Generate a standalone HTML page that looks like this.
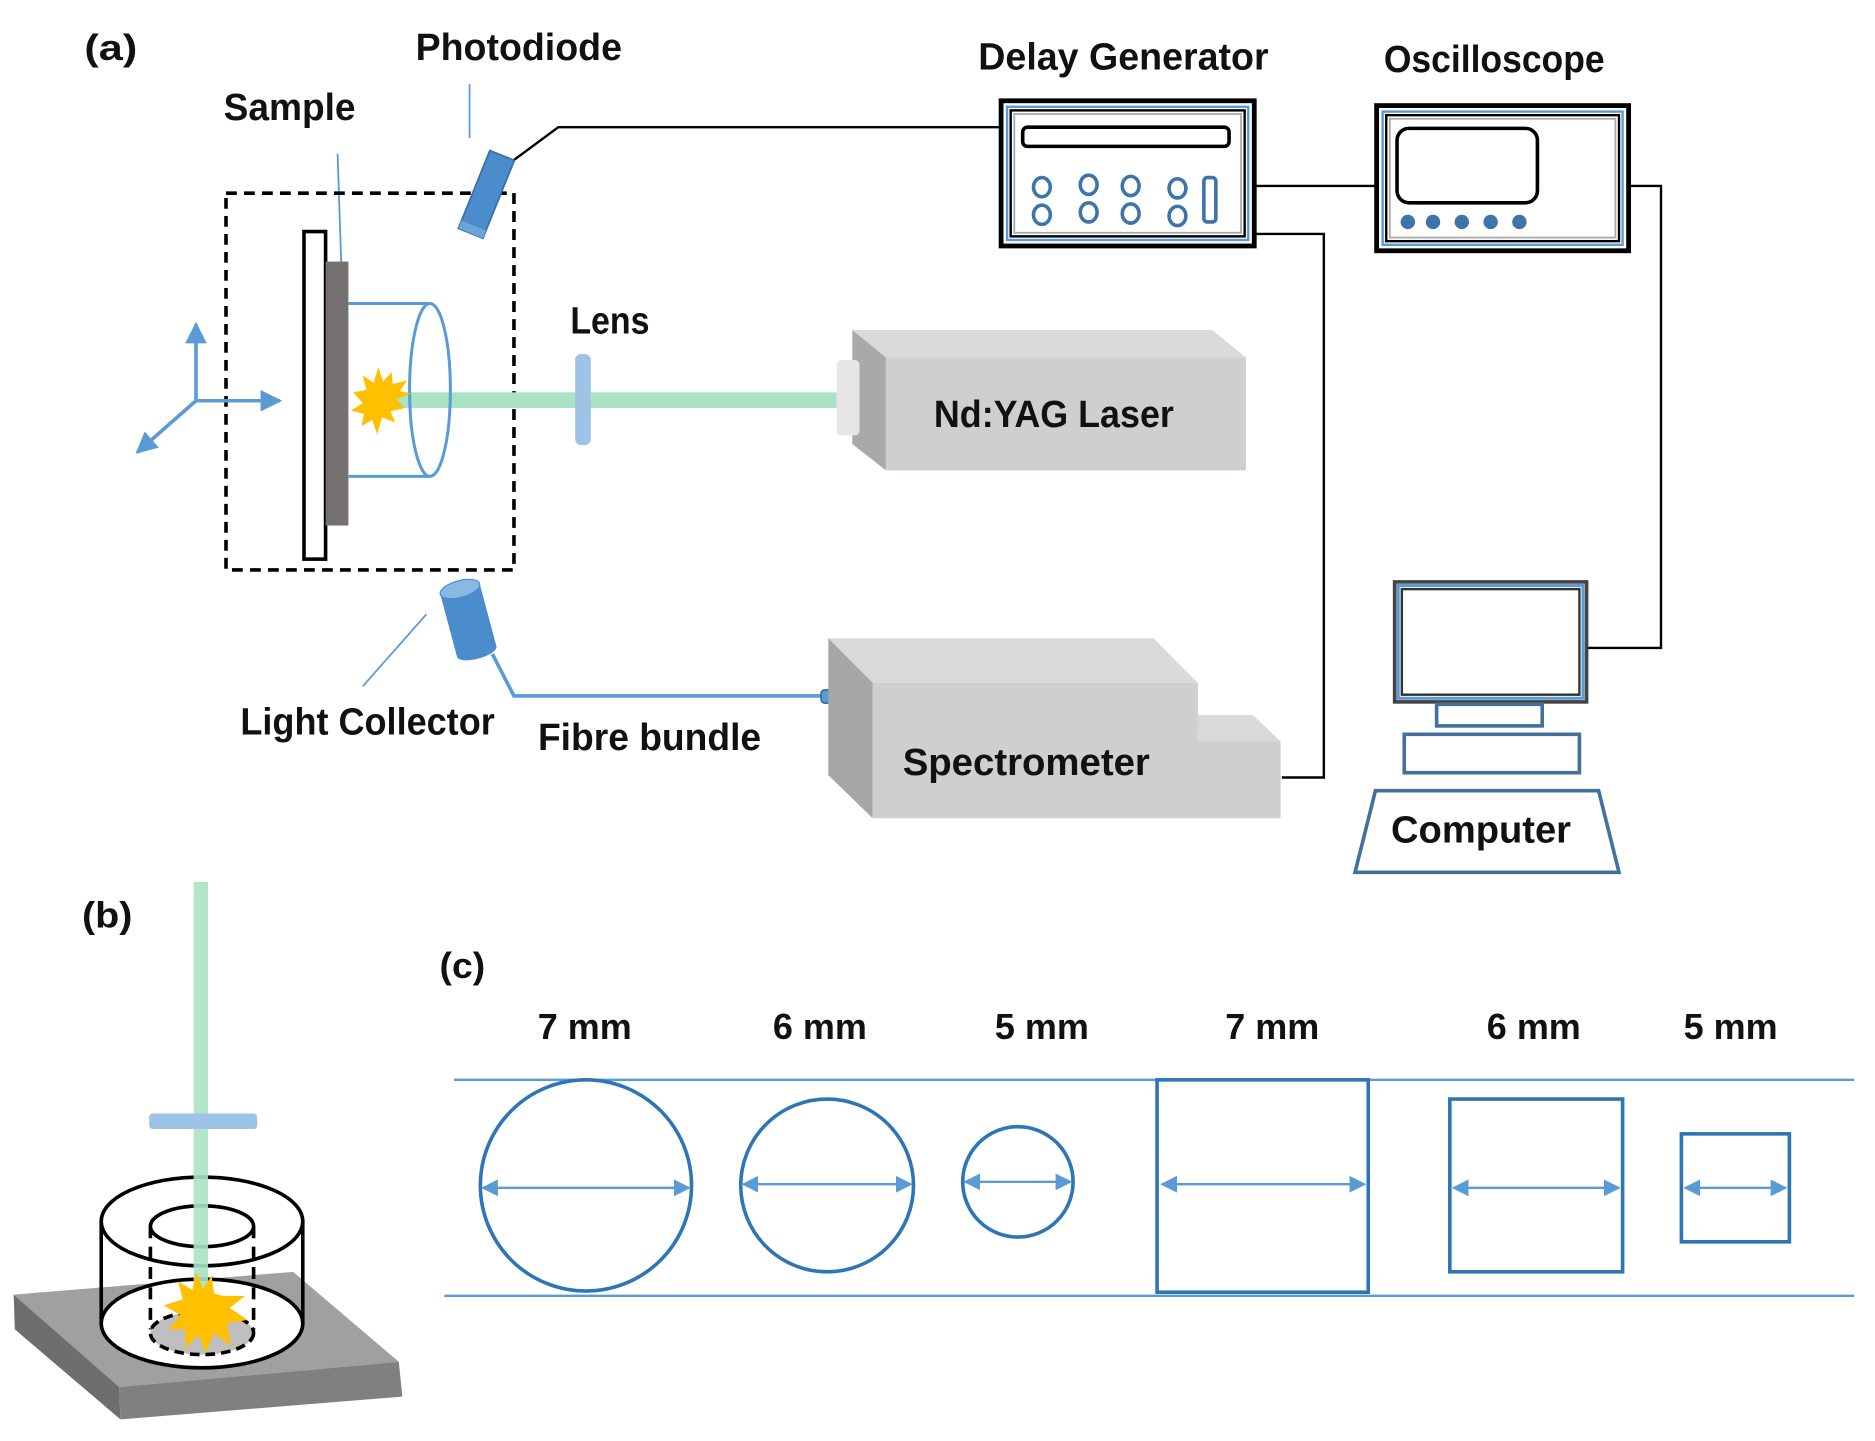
<!DOCTYPE html>
<html><head><meta charset="utf-8"><style>
html,body{margin:0;padding:0;background:#fff;}
svg{display:block;}
text{font-family:"Liberation Sans",sans-serif;font-weight:bold;fill:#111;}
</style></head><body>
<svg width="1875" height="1441" viewBox="0 0 1562 1201" xmlns="http://www.w3.org/2000/svg">
<defs>
<marker id="ah" viewBox="0 0 10 10" refX="9" refY="5" markerWidth="6" markerHeight="6" orient="auto-start-reverse"><path d="M0,0 L10,5 L0,10 z" fill="#5b9bd5"/></marker>
<marker id="ah2" viewBox="0 0 10 10" refX="9" refY="5" markerWidth="7" markerHeight="7" orient="auto-start-reverse"><path d="M0,0 L10,5 L0,10 z" fill="#5b9bd5"/></marker>
</defs>

<!-- labels (a) -->
<text x="70" y="50" font-size="30" textLength="44" lengthAdjust="spacingAndGlyphs">(a)</text>
<text x="186" y="100" font-size="32" textLength="110" lengthAdjust="spacingAndGlyphs">Sample</text>
<text x="346" y="50" font-size="32" textLength="172" lengthAdjust="spacingAndGlyphs">Photodiode</text>
<text x="475" y="278" font-size="32" textLength="66" lengthAdjust="spacingAndGlyphs">Lens</text>
<text x="815" y="58" font-size="32" textLength="242" lengthAdjust="spacingAndGlyphs">Delay Generator</text>
<text x="1153" y="60" font-size="32" textLength="184" lengthAdjust="spacingAndGlyphs">Oscilloscope</text>
<text x="200" y="612" font-size="32" textLength="212" lengthAdjust="spacingAndGlyphs">Light Collector</text>
<text x="448" y="625" font-size="32" textLength="186" lengthAdjust="spacingAndGlyphs">Fibre bundle</text>

<!-- pointer lines -->
<line x1="281" y1="128" x2="284" y2="218" stroke="#5b9bd5" stroke-width="1.5"/>
<line x1="391" y1="70" x2="391" y2="115" stroke="#5b9bd5" stroke-width="1.5"/>
<line x1="355" y1="512" x2="302" y2="572" stroke="#5b9bd5" stroke-width="1.5"/>

<!-- black wires -->
<polyline points="423,137 465,106 835,106" fill="none" stroke="#000" stroke-width="2"/>
<line x1="1045" y1="155" x2="1147" y2="155" stroke="#000" stroke-width="2"/>
<polyline points="1045,195 1103,195 1103,648 1068,648" fill="none" stroke="#000" stroke-width="2"/>
<polyline points="1358,155 1384,155 1384,540 1323,540" fill="none" stroke="#000" stroke-width="2"/>

<!-- dashed box -->
<rect x="188" y="161" width="240" height="314" fill="none" stroke="#000" stroke-width="3" stroke-dasharray="9,6"/>

<!-- sample holder -->
<rect x="253" y="193" width="18" height="273" fill="#fff" stroke="#000" stroke-width="3"/>
<rect x="271" y="218" width="19" height="220" fill="#767171"/>

<!-- beam -->
<rect x="330" y="327" width="367" height="13" fill="#a9e3c3"/>
<!-- cylinder -->
<line x1="290" y1="253" x2="358" y2="253" stroke="#5b9bd5" stroke-width="2.5"/>
<line x1="290" y1="397" x2="358" y2="397" stroke="#5b9bd5" stroke-width="2.5"/>
<ellipse cx="358" cy="325" rx="17" ry="72" fill="none" stroke="#5b9bd5" stroke-width="2.5"/>
<!-- star -->
<polygon fill="#ffc000" points="342,328 330,333 337,340 325,343 329,352 318,348 314,362 310,350 301,355 303,345 292,342 302,336 294,327 305,325 302,313 311,319 315,306 319,318 326,310 327,320 339,317 333,326"/>
<!-- lens -->
<rect x="479" y="295" width="13" height="76" rx="5" fill="#9dc3e6"/>

<!-- axes -->
<line x1="163" y1="334" x2="163" y2="270" stroke="#5b9bd5" stroke-width="3" marker-end="url(#ah)"/>
<line x1="163" y1="334" x2="233" y2="334" stroke="#5b9bd5" stroke-width="3" marker-end="url(#ah)"/>
<line x1="163" y1="334" x2="114" y2="377" stroke="#5b9bd5" stroke-width="3" marker-end="url(#ah)"/>

<!-- photodiode -->
<g transform="translate(405,162) rotate(22)">
<rect x="-11" y="-35" width="22" height="70" fill="#4a8ccc" stroke="#3a70a8" stroke-width="1.5"/>
<rect x="-11" y="28" width="22" height="7" fill="#6aa4da"/>
</g>

<!-- light collector -->
<g transform="translate(390,517) rotate(-15)">
<rect x="-17" y="-27" width="34" height="54" fill="#4a8ccc"/>
<ellipse cx="0" cy="-27" rx="17" ry="7" fill="#8ab8e4" stroke="#4a8ccc" stroke-width="1"/>
<ellipse cx="0" cy="27" rx="17" ry="6" fill="#4a8ccc"/>
</g>
<polyline points="410,545 428,580 690,580" fill="none" stroke="#5b9bd5" stroke-width="3"/>
<rect x="684" y="575" width="18" height="11" rx="3" fill="#5b9bd5" stroke="#3a70a8" stroke-width="1.5"/>

<!-- laser -->
<polygon points="710,275 1010,275 1038,298 738,298" fill="#dadada"/>
<polygon points="710,275 738,298 738,392 710,370" fill="#a9a9a9"/>
<rect x="738" y="298" width="300" height="94" fill="#d0cece"/>
<rect x="697" y="300" width="19" height="63" rx="4" fill="#e7e6e6"/>
<text x="778" y="356" font-size="32" textLength="200" lengthAdjust="spacingAndGlyphs">Nd:YAG Laser</text>

<!-- spectrometer -->
<polygon points="690,532 961,532 998,569 727,569" fill="#d9d9d9"/>
<polygon points="998,596 1044,596 1067,618 998,618" fill="#d9d9d9"/>
<polygon points="690,532 727,569 727,682 690,646" fill="#a6a6a6"/>
<polygon points="727,569 998,569 998,618 1067,618 1067,682 727,682" fill="#d0cece"/>
<text x="752" y="646" font-size="32" textLength="206" lengthAdjust="spacingAndGlyphs">Spectrometer</text>

<!-- delay generator -->
<rect x="834" y="84" width="211" height="121" fill="#fff" stroke="#000" stroke-width="4"/>
<rect x="839" y="89" width="201" height="111" fill="none" stroke="#5b9bd5" stroke-width="2"/>
<rect x="842" y="92" width="195" height="105" fill="none" stroke="#000" stroke-width="2"/>
<rect x="845" y="95" width="189" height="99" fill="none" stroke="#aaa" stroke-width="1.5"/>
<rect x="852" y="106" width="172" height="16" rx="4" fill="none" stroke="#000" stroke-width="3"/>
<g fill="none" stroke="#3d74aa" stroke-width="3">
<ellipse cx="868" cy="156" rx="7" ry="8"/><ellipse cx="907" cy="154" rx="7" ry="8"/><ellipse cx="942" cy="155" rx="7" ry="8"/><ellipse cx="981" cy="157" rx="7" ry="8"/>
<ellipse cx="868" cy="179" rx="7" ry="8"/><ellipse cx="907" cy="177" rx="7" ry="8"/><ellipse cx="942" cy="178" rx="7" ry="8"/><ellipse cx="981" cy="180" rx="7" ry="8"/>
<rect x="1003" y="148" width="10" height="37" rx="3"/>
</g>

<!-- oscilloscope -->
<rect x="1147" y="88" width="210" height="121" fill="#fff" stroke="#000" stroke-width="4"/>
<rect x="1152" y="93" width="200" height="111" fill="none" stroke="#5b9bd5" stroke-width="2"/>
<rect x="1155" y="96" width="194" height="105" fill="none" stroke="#000" stroke-width="2"/>
<rect x="1158" y="99" width="188" height="99" fill="none" stroke="#aaa" stroke-width="1.5"/>
<rect x="1164" y="107" width="117" height="62" rx="10" fill="none" stroke="#000" stroke-width="3"/>
<g fill="#3d74aa"><circle cx="1173" cy="185" r="6"/><circle cx="1194" cy="185" r="6"/><circle cx="1218" cy="185" r="6"/><circle cx="1242" cy="185" r="6"/><circle cx="1266" cy="185" r="6"/></g>

<!-- computer -->
<rect x="1162" y="485" width="160" height="100" fill="#fff" stroke="#444" stroke-width="3"/>
<rect x="1165" y="488" width="154" height="94" fill="none" stroke="#5b9bd5" stroke-width="2.5"/>
<rect x="1168" y="491" width="148" height="88" fill="none" stroke="#333" stroke-width="2"/>
<rect x="1197" y="587" width="88" height="18" fill="none" stroke="#41719c" stroke-width="3"/>
<rect x="1170" y="612" width="146" height="32" fill="none" stroke="#41719c" stroke-width="3"/>
<polygon points="1146,659 1332,659 1349,727 1129,727" fill="none" stroke="#41719c" stroke-width="3"/>
<text x="1159" y="702" font-size="32" textLength="150" lengthAdjust="spacingAndGlyphs">Computer</text>

<!-- (b) -->
<text x="68" y="773" font-size="30" textLength="42" lengthAdjust="spacingAndGlyphs">(b)</text>
<polygon points="11,1079 244,1060 332,1135 99,1156" fill="#a0a0a0"/>
<polygon points="11,1079 99,1156 100,1183 12,1108" fill="#6e6e6e"/>
<polygon points="99,1156 332,1135 335,1164 100,1183" fill="#808080"/>
<ellipse cx="168" cy="1103" rx="84" ry="37" fill="#fff" stroke="#000" stroke-width="3"/>
<ellipse cx="168" cy="1111" rx="43" ry="18" fill="#bfbfbf" stroke="#000" stroke-width="3" stroke-dasharray="8,5"/>
<line x1="84" y1="1018" x2="84" y2="1103" stroke="#000" stroke-width="3"/>
<line x1="252" y1="1018" x2="252" y2="1103" stroke="#000" stroke-width="3"/>
<ellipse cx="168" cy="1018" rx="84" ry="37" fill="none" stroke="#000" stroke-width="3"/>
<ellipse cx="168" cy="1022" rx="43" ry="17" fill="none" stroke="#000" stroke-width="3"/>
<line x1="125" y1="1022" x2="125" y2="1108" stroke="#000" stroke-width="3" stroke-dasharray="10,7"/>
<line x1="211" y1="1022" x2="211" y2="1108" stroke="#000" stroke-width="3" stroke-dasharray="10,7"/>
<rect x="161" y="735" width="12" height="340" fill="#a9e3c3" opacity="0.9"/>
<rect x="124" y="928" width="90" height="13" rx="3" fill="#9dc3e6"/>
<polygon fill="#ffc000" points="185,1080 204,1080 191,1090 206,1100 189,1103 192,1122 178,1111 171,1128 165,1112 154,1124 154,1108 140,1108 150,1096 136,1088 152,1083 148,1068 160,1075 163,1060 169,1074 176,1063 178,1078"/>

<!-- (c) -->
<text x="366" y="815" font-size="30" textLength="38" lengthAdjust="spacingAndGlyphs">(c)</text>
<g font-size="30" text-anchor="middle">
<text x="487" y="866">7 mm</text><text x="683" y="866">6 mm</text><text x="868" y="866">5 mm</text>
<text x="1060" y="866">7 mm</text><text x="1278" y="866">6 mm</text><text x="1442" y="866">5 mm</text>
</g>
<line x1="378" y1="900" x2="1545" y2="900" stroke="#5b9bd5" stroke-width="2"/>
<line x1="370" y1="1080" x2="1545" y2="1080" stroke="#5b9bd5" stroke-width="2"/>
<g fill="none" stroke="#2e75b6" stroke-width="3">
<circle cx="488" cy="988" r="88"/>
<circle cx="689" cy="988" r="72"/>
<circle cx="848" cy="985" r="46"/>
<rect x="964" y="900" width="176" height="177"/>
<rect x="1208" y="916" width="144" height="144"/>
<rect x="1401" y="945" width="90" height="90"/>
</g>
<g stroke="#5b9bd5" stroke-width="2" marker-start="url(#ah2)" marker-end="url(#ah2)">
<line x1="402" y1="990" x2="574" y2="990"/>
<line x1="619" y1="987" x2="759" y2="987"/>
<line x1="804" y1="985" x2="892" y2="985"/>
<line x1="968" y1="987" x2="1137" y2="987"/>
<line x1="1211" y1="990" x2="1349" y2="990"/>
<line x1="1404" y1="990" x2="1488" y2="990"/>
</g>
</svg>
</body></html>
